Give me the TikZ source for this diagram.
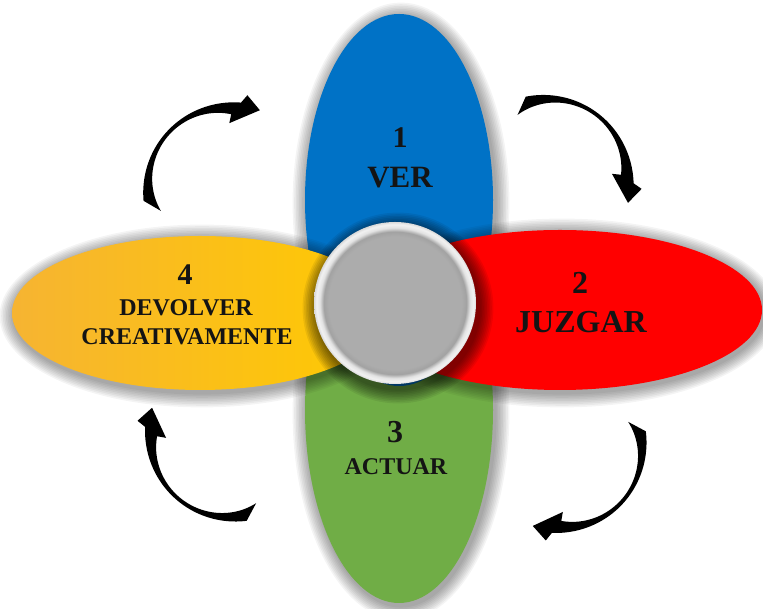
\documentclass[tikz,border=0pt]{standalone}
\usepackage{fontspec}
\setmainfont{Liberation Serif}
\usetikzlibrary{shapes.geometric}
\definecolor{cblue}{RGB}{0,114,198}
\definecolor{cred}{RGB}{255,0,0}
\definecolor{cgreen}{RGB}{112,173,70}
\definecolor{cyelL}{RGB}{246,180,50}
\definecolor{cyelR}{RGB}{255,202,0}
\definecolor{knobA}{RGB}{172,172,172}
\definecolor{knobB}{RGB}{162,162,162}
\definecolor{knobC}{RGB}{226,226,226}
\definecolor{knobD}{RGB}{242,242,242}
\definecolor{knobE}{RGB}{216,216,216}
\pgfdeclareradialshading{knob}{\pgfpoint{0bp}{0bp}}{color(0bp)=(knobA); color(20.5bp)=(knobA); color(22bp)=(knobB); color(23.2bp)=(knobC); color(24.3bp)=(knobD); color(25bp)=(knobE); color(50bp)=(knobE)}
\tikzset{
  petal/.style={ellipse, draw=none, inner sep=0pt, outer sep=0pt},
  shadowlayer/.style={fill=black, opacity=#1},
  lbl/.style={font=\bfseries\fontsize{#1}{#1}\selectfont, inner sep=0pt, text=black!92},
  arrowbody/.style={fill=black},
  declare function={tt(\a)=3.8+0.0029*(\a-138)^2;}
}
% soft shadow: centre x, centre y, x radius, y radius, layer opacity
\newcommand\softshadow[5]{%
  \foreach \k in {1,...,9}{%
    \fill[shadowlayer=#5] (#1+2,#2-3) ellipse ({(#3+\k*1.6)*1pt} and {(#4+\k*1.6)*1pt});}}
% curved arrow: centre x, centre y, rotation
\newcommand\cyclearrow[3]{%
  \begin{scope}[shift={(#1,#2)}, rotate=#3]
    \fill[arrowbody] plot[domain=191:79, samples=50] ({(77+tt(\x)/2)*cos(\x)},{(77+tt(\x)/2)*sin(\x)})
      -- (76:92.5) -- (65:82.5) -- (86:62)
      -- plot[domain=85:202, samples=50] ({(77-tt(\x)/2)*cos(\x)},{(77-tt(\x)/2)*sin(\x)}) -- cycle;
  \end{scope}}
\begin{document}
\begin{tikzpicture}[x=1pt,y=1pt]
\useasboundingbox[fill=white] (0,0) rectangle (763,609);
% vertical petals
\softshadow{399}{199}{94}{193}{0.045}
\softshadow{399}{409}{94}{186}{0.045}
\node[petal, fill=cgreen, minimum width=188pt, minimum height=386pt] (actuar) at (399,199) {};
\node[petal, fill=cblue, minimum width=188pt, minimum height=372pt] (ver) at (399,409) {};
% horizontal petals
\softshadow{200}{296}{188}{77}{0.045}
\softshadow{560}{299}{202}{80}{0.045}
\node[petal, left color=cyelL, right color=cyelR, minimum width=376pt, minimum height=154pt] (devolver) at (200,296) {};
\node[petal, fill=cred, minimum width=404pt, minimum height=160pt] (juzgar) at (560,299) {};
% centre knob
\softshadow{396}{304}{81}{81}{0.07}
\node[circle, inner sep=0pt, minimum size=162pt, shading=knob] (hub) at (395,306) {};
% labels
\node[lbl=30] (n1) at (400,471) {1};
\node[lbl=31] (t1) at (400,431) {VER};
\node[lbl=32] (n2) at (580,326) {2};
\node[lbl=32] (t2) at (581,287) {JUZGAR};
\node[lbl=32] (n3) at (395,177) {3};
\node[lbl=24] (t3) at (396,142) {ACTUAR};
\node[lbl=30] (n4) at (185,334) {4};
\node[lbl=24] (t4a) at (186,301) {DEVOLVER};
\node[lbl=24] (t4b) at (187,272) {CREATIVAMENTE};
% cycle arrows
\cyclearrow{225}{424}{0}
\cyclearrow{550}{433}{-84}
\cyclearrow{565}{159}{-178}
\cyclearrow{228}{169}{92}
\end{tikzpicture}
\end{document}
